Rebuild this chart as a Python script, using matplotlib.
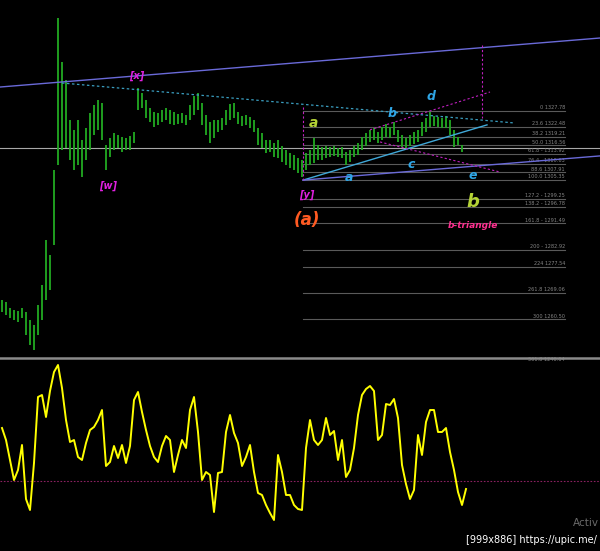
import matplotlib
matplotlib.use("Agg")
import matplotlib.pyplot as plt
from matplotlib.lines import Line2D
import numpy as np

# ---------------- data ----------------
bar_high = [1266.8, 1266.1, 1264.2, 1263.5, 1263.2, 1264.2, 1262.9, 1260.3, 1258.7, 1265.2,
            1271.6, 1286.1, 1281.3, 1308.7, 1357.6, 1343.5, 1337.7, 1324.8, 1321.6, 1324.8,
            1318.3, 1322.2, 1327.0, 1329.6, 1331.2, 1330.3, 1316.7, 1319.0, 1320.6, 1319.9,
            1319.3, 1319.0, 1319.6, 1320.9, 1335.1, 1333.5, 1331.2, 1328.6, 1327.4, 1327.0,
            1328.0, 1328.6, 1328.0, 1327.4, 1326.7, 1327.0, 1326.4, 1329.6, 1332.5, 1333.5,
            1330.3, 1326.4, 1324.1, 1324.8, 1324.8, 1325.4, 1328.0, 1329.9, 1330.3, 1327.4,
            1326.1, 1326.4, 1325.7, 1324.8, 1322.2, 1320.6, 1318.3, 1318.3, 1317.4, 1318.3,
            1316.4, 1315.1, 1314.1, 1313.5, 1312.5, 1311.9, 1314.1, 1315.1, 1319.0, 1316.7,
            1316.1, 1316.4, 1316.1, 1316.4, 1315.8, 1316.1, 1314.5, 1315.1, 1316.4, 1317.4,
            1319.3, 1320.6, 1321.6, 1322.2, 1320.9, 1322.5, 1323.5, 1322.5, 1324.1, 1321.6,
            1319.9, 1319.0, 1319.9, 1320.9, 1321.6, 1324.1, 1325.4, 1327.4, 1326.1, 1325.7,
            1325.4, 1326.1, 1324.8, 1321.6, 1319.3, 1316.7]
bar_low = [1262.9, 1261.9, 1261.0, 1260.3, 1259.7, 1261.0, 1255.5, 1252.3, 1250.6, 1255.5,
           1260.3, 1266.8, 1270.0, 1284.5, 1310.3, 1315.1, 1315.8, 1311.9, 1308.7, 1310.3,
           1306.4, 1311.9, 1315.1, 1319.9, 1321.6, 1318.3, 1308.7, 1312.9, 1315.1, 1315.8,
           1314.5, 1315.1, 1315.1, 1317.4, 1328.0, 1328.6, 1325.4, 1324.1, 1322.5, 1323.2,
           1324.1, 1324.8, 1323.5, 1323.2, 1323.5, 1323.8, 1323.2, 1324.8, 1326.4, 1328.0,
           1323.2, 1319.9, 1317.4, 1319.0, 1320.9, 1321.6, 1323.2, 1324.8, 1325.4, 1323.5,
           1322.8, 1323.2, 1322.2, 1320.9, 1316.7, 1315.8, 1314.1, 1314.5, 1312.9, 1312.5,
           1311.2, 1310.3, 1309.3, 1308.7, 1307.7, 1306.4, 1308.7, 1310.3, 1310.9, 1311.9,
           1311.9, 1312.5, 1312.9, 1313.2, 1312.9, 1312.5, 1310.3, 1311.2, 1312.9, 1313.5,
           1315.1, 1316.4, 1317.7, 1318.3, 1317.4, 1318.3, 1319.3, 1319.0, 1319.9, 1317.7,
           1316.1, 1315.8, 1316.4, 1317.0, 1317.7, 1319.6, 1320.9, 1322.5, 1322.8, 1322.5,
           1322.2, 1322.2, 1319.9, 1316.1, 1316.7, 1314.5]

oscillator = [53, 41, 21, 1, 11, 36, -18, -29, 18, 84,
              86, 64, 90, 109, 116, 93, 61, 39, 41, 24,
              21, 38, 51, 54, 61, 71, 15, 19, 35, 23,
              36, 18, 35, 81, 89, 69, 51, 35, 24, 19,
              35, 45, 41, 9, 26, 41, 33, 71, 84, 49,
              1, 9, 6, -31, 8, 9, 49, 66, 48, 38,
              15, 24, 36, 9, -12, -14, -24, -32, -39, 26,
              9, -14, -14, -24, -28, -29, 33, 61, 41, 36,
              41, 63, 46, 50, 21, 41, 4, 11, 33, 66,
              86, 92, 95, 90, 41, 46, 77, 76, 82, 63,
              16, -3, -18, -9, 46, 26, 59, 71, 71, 49,
              49, 53, 29, 11, -11, -24, -8]

fib_levels = [0, 23.6, 38.2, 50.0, 61.8, 76.4, 88.6, 100.0, 127.2, 138.2,
              161.8, 200, 224, 261.8, 300, 361.8]
fib_labels = ["0 1327.78", "23.6 1322.48", "38.2 1319.21", "50.0 1316.56",
              "61.8 - 1313.92", "76.4 - 1310.63", "88.6 1307.91", "100.0 1305.35",
              "127.2 - 1299.25", "138.2 - 1296.78", "161.8 - 1291.49", "200 - 1282.92",
              "224 1277.54", "261.8 1269.06", "300 1260.50", "361.8 1246.64"]
fib_top = 1327.78
fib_bottom = 1305.35
fib_start, fib_end = 75.25, 140.75

current_price = 1315.8

# wave labels: text, bar position, price, colour, size
wave_labels = [
    ("[x]", 33.75, 1338.9, "#e020e0", 7),
    ("[w]", 26.5, 1303.5, "#e020e0", 7),
    ("a", 77.75, 1323.8, "#b4d236", 10),
    ("b", 97.5, 1327.0, "#2fa6e6", 9),
    ("d", 107.25, 1332.2, "#2fa6e6", 9),
    ("c", 102.25, 1310.3, "#2fa6e6", 9),
    ("a", 86.75, 1306.1, "#2fa6e6", 9),
    ("e", 117.75, 1307.0, "#2fa6e6", 9),
    ("[y]", 76.25, 1300.6, "#e020e0", 7),
    ("(a)", 76.25, 1292.5, "#ff5a22", 12),
    ("b", 117.75, 1298.4, "#b4d236", 13),
    ("b-triangle", 117.75, 1290.9, "#ff3090", 6.5),
]

# ---------------- figure ----------------
fig = plt.figure(figsize=(6, 5.51), dpi=100, facecolor="black")
ax = fig.add_axes([0, 194 / 551, 1, 357 / 551])
ax2 = fig.add_axes([0, 0, 1, 191 / 551])
for a in (ax, ax2):
    a.set_facecolor("black")
    a.set_axis_off()
    a.set_xlim(-0.5, 149.5)
ax.set_ylim(1248.39, 1363.45)
ax2.set_ylim(-70, 121)

idx = np.arange(len(bar_high))
ax.vlines(idx, bar_low, bar_high, color="#22aa22", lw=1.3, zorder=3)

# current price line
ax.axhline(current_price, color="#a8a8a8", lw=0.8, zorder=2)

# fibonacci grid
for lvl, lab in zip(fib_levels, fib_labels):
    p = fib_top - lvl / 100.0 * (fib_top - fib_bottom)
    ax.plot([fib_start, fib_end], [p, p], color="#5a5a5a", lw=0.8, zorder=1)
    ax.text(fib_end, p + 0.25, lab, color="#858585", fontsize=3.6,
            ha="right", va="bottom", zorder=2)

# trend lines
ax.plot([-0.5, 149.5], [1335.4, 1351.2], color="#6a6ad8", lw=1.0, zorder=4)
ax.plot([15, 128.25], [1336.7, 1323.8], color="#3a9ec0", lw=0.9,
        dashes=(2, 2), zorder=4)
ax.plot([75.25, 121.25], [1305.4, 1323.2], color="#40a8d8", lw=1.0, zorder=4)
ax.plot([75.25, 149.5], [1305.4, 1313.2], color="#6a6ad8", lw=1.0, zorder=4)
ax.plot([75.25, 75.25], [1328.9, 1305.4], color="#c020c0", lw=0.8,
        dashes=(2, 2), zorder=4)
ax.plot([120, 120], [1349.0, 1325.4], color="#c020c0", lw=0.8,
        dashes=(2, 2), zorder=4)
ax.plot([92, 122], [1321.6, 1333.8], color="#c020c0", lw=0.8,
        dashes=(2, 2), zorder=4)
ax.plot([94.5, 124.5], [1317.7, 1308.0], color="#c020c0", lw=0.8,
        dashes=(2, 2), zorder=4)

for txt, xi, pr, col, fs in wave_labels:
    ax.text(xi, pr, txt, color=col, fontsize=fs, fontstyle="italic",
            fontweight="bold", ha="center", va="center", zorder=5)

# separator
fig.add_artist(Line2D([0, 1], [1 - 358 / 551, 1 - 358 / 551],
                      transform=fig.transFigure, color="#8a8a8a", lw=1.8))

# oscillator
ax2.axhline(0, color="#8a2060", lw=0.8, dashes=(1.5, 1.5))
ax2.plot(np.arange(len(oscillator)), oscillator, color="#ffff00", lw=1.4)

fig.text(573 / 600, 1 - 523 / 551, "Activ", color="#6a6a6a", fontsize=7.5,
         ha="left", va="center")
fig.text(597 / 600, 1 - 540 / 551, "[999x886] https://upic.me/", color="white",
         fontsize=7, ha="right", va="center")

fig.savefig("out.png", dpi=100, facecolor="black")
